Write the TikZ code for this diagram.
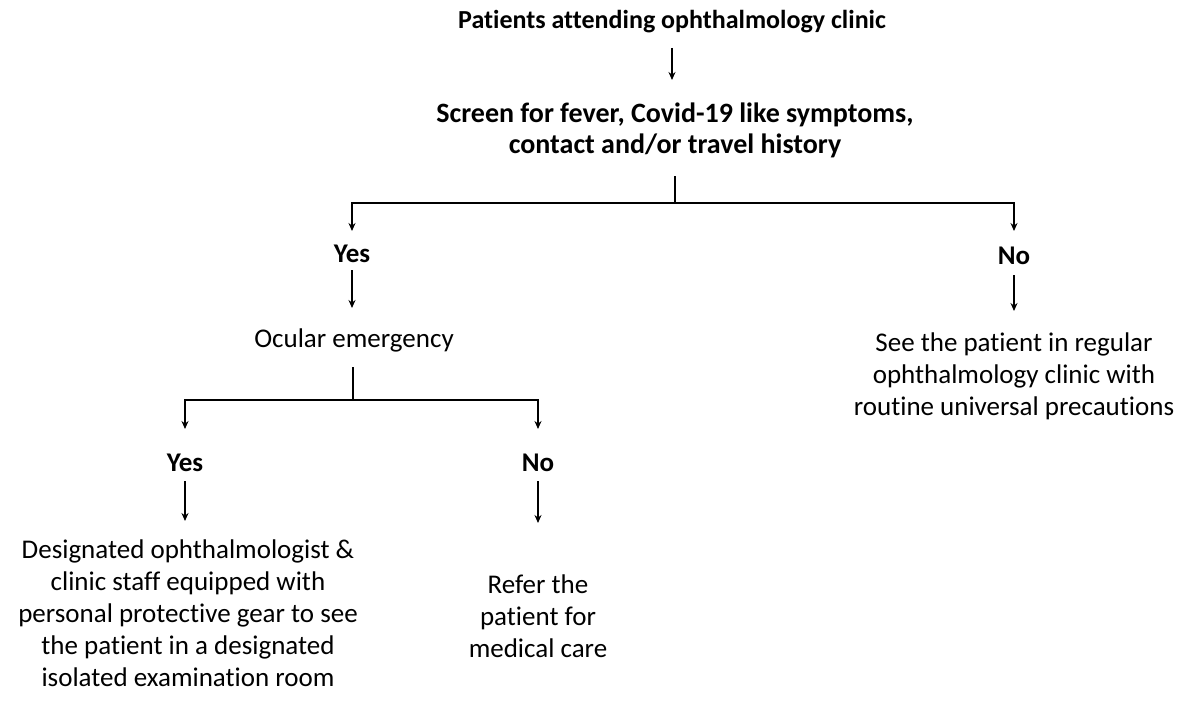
\documentclass[tikz,border=0pt]{standalone}
\usepackage{fontspec}
\setmainfont{Carlito}[Ligatures={NoCommon}]
\usetikzlibrary{arrows.meta}
\begin{document}
\begin{tikzpicture}[x=1pt,y=-1pt,
  txt/.style={align=center,font=\fontsize{27}{32}\selectfont,inner sep=0pt},
  btxt/.style={txt,font=\fontsize{27}{32}\selectfont\bfseries},
  ln/.style={line width=1.6pt},
  arr/.style={ln,-{Stealth[length=8pt,width=7pt]}}]
\useasboundingbox (0,0) rectangle (1188,701);
\node[btxt,font=\fontsize{26}{32}\selectfont\bfseries] (t1) at (672,22) {Patients attending ophthalmology clinic};
\node[btxt,font=\fontsize{28}{31}\selectfont\bfseries] (t2) at (675,130) {Screen for fever, Covid-19 like symptoms,\\contact and/or travel history};
\node[btxt] (y1) at (352,254) {Yes};
\node[btxt] (n1) at (1014,256) {No};
\node[txt] (oe) at (354,340) {Ocular emergency};
\node[txt] (see) at (1014,376) {See the patient in regular\\ophthalmology clinic with\\routine universal precautions};
\node[btxt] (y2) at (185,463) {Yes};
\node[btxt] (n2) at (538,463) {No};
\node[txt] (des) at (188,613) {Designated ophthalmologist \&\\clinic staff equipped with\\personal protective gear to see\\the patient in a designated\\isolated examination room};
\node[txt] (ref) at (538,616) {Refer the\\patient for\\medical care};
\coordinate (a1s) at (672,48); \coordinate (a1e) at (672,80);
\draw[arr] (a1s) -- (a1e);
\coordinate (s1) at (675,176); \coordinate (j1) at (675,203);
\coordinate (l1) at (352,203); \coordinate (r1) at (1014,203);
\draw[ln] (s1) -- (j1);
\draw[arr] (j1) -- (l1) -- (352,231);
\draw[arr] (j1) -- (r1) -- (1014,231);
\draw[arr] (352,270) -- (352,308);
\draw[arr] (1014,275) -- (1014,311);
\coordinate (s2) at (353,367); \coordinate (j2) at (353,400);
\draw[ln] (s2) -- (j2);
\draw[arr] (j2) -- (185,400) -- (185,429);
\draw[arr] (j2) -- (538,400) -- (538,429);
\draw[arr] (185,481) -- (185,521);
\draw[arr] (538,481) -- (538,523);
\end{tikzpicture}
\end{document}
